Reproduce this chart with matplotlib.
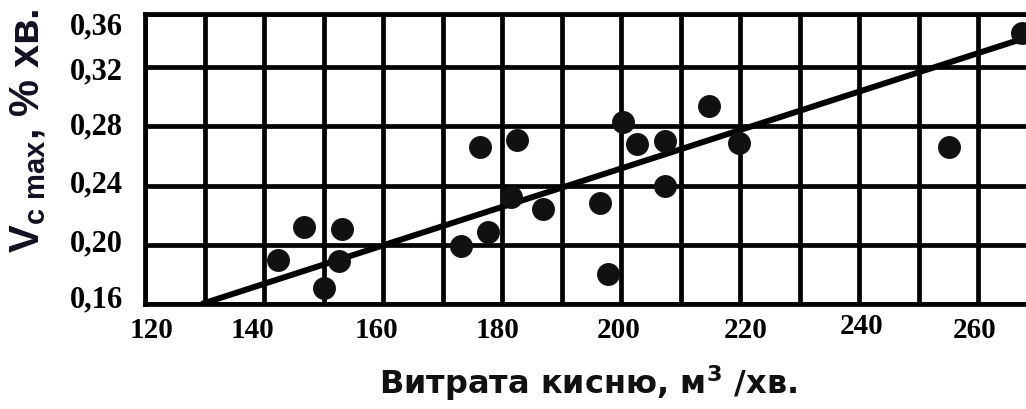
import numpy as np
import matplotlib
matplotlib.use("Agg")
import matplotlib.pyplot as plt
from matplotlib.transforms import ScaledTranslation

# дані
flow = [142.3, 146.7, 150.0, 152.6, 153.1, 173.1, 176.2, 177.7, 181.5, 182.5,
        186.8, 196.5, 197.7, 200.3, 202.7, 207.3, 207.3, 214.7, 219.8, 255.1, 267.4]
vc_max = [0.190, 0.212, 0.171, 0.189, 0.211, 0.199, 0.266, 0.209, 0.232, 0.271,
          0.224, 0.228, 0.180, 0.283, 0.268, 0.270, 0.240, 0.294, 0.269, 0.266, 0.343]

trend_x = [129.5, 268.0]
trend_y = [0.160, 0.340]

x_ticks = [120, 140, 160, 180, 200, 220, 240, 260]
x_labels = ["120", "140", "160", "180", "200", "220", "240", "260"]
y_ticks = [0.16, 0.20, 0.24, 0.28, 0.32, 0.356]
y_labels = ["0,16", "0,20", "0,24", "0,28", "0,32", "0,36"]

plt.rcParams['mathtext.fontset'] = 'custom'
plt.rcParams['mathtext.rm'] = 'DejaVu Sans'
plt.rcParams['mathtext.bf'] = 'Liberation Sans:bold'

fig = plt.figure(figsize=(10.26, 4.09), dpi=100)
ax = fig.add_axes([0.1413, 0.2567, 0.8587, 0.7091])

ax.set_xlim(120, 268)
ax.set_ylim(0.16, 0.356)

ax.set_xticks(np.arange(120, 268, 10), minor=True)
ax.set_xticks(x_ticks)
ax.set_xticklabels(x_labels)
ax.set_yticks(y_ticks)
ax.set_yticklabels(y_labels)

ax.grid(True, which='both', color='black', linewidth=3.4)
ax.set_axisbelow(True)
ax.tick_params(which='both', length=0)
ax.tick_params(axis='x', pad=9)
ax.tick_params(axis='y', pad=16)

for s in ax.spines.values():
    s.set_linewidth(3.4)
ax.spines['right'].set_visible(False)

ax.plot(trend_x, trend_y, color='black', linewidth=4.3, solid_capstyle='butt', zorder=3)
ax.plot(flow, vc_max, 'o', color='#111111', markersize=15.5, zorder=4)

# підписи осей зсунуті як в оригіналі
x_dx = [7, -12, -7, -5, -3, 5, 2, -4]
x_dy = [0, 0, 0, 0, 0, 0, 4, 0]
for lab, dx, dy in zip(ax.get_xticklabels(), x_dx, x_dy):
    lab.set_fontfamily('Liberation Serif')
    lab.set_fontweight('bold')
    lab.set_fontsize(21)
    lab.set_transform(lab.get_transform() + ScaledTranslation(dx / 100, dy / 100, fig.dpi_scale_trans))

y_dy = [8, 4, 4, 3, -1, -9]
for lab, dy in zip(ax.get_yticklabels(), y_dy):
    lab.set_fontfamily('Liberation Serif')
    lab.set_fontweight('bold')
    lab.set_fontsize(22)
    lab.set_transform(lab.get_transform() + ScaledTranslation(0, dy / 100, fig.dpi_scale_trans))

fig.text(0.573, 0.036, r"Витрата кисню, м$^{\mathregular{3}}$ /хв.",
         fontfamily='DejaVu Sans', fontweight='bold', fontsize=23,
         ha='center', va='baseline', color='#111111')
fig.text(0.027, 0.68, r"V$_{\mathbf{c\ max}}$, % хв.",
         fontfamily='Liberation Sans', fontweight='bold', fontsize=30,
         rotation=90, ha='center', va='center', color='#111122')

fig.savefig('out.png', dpi=100)
